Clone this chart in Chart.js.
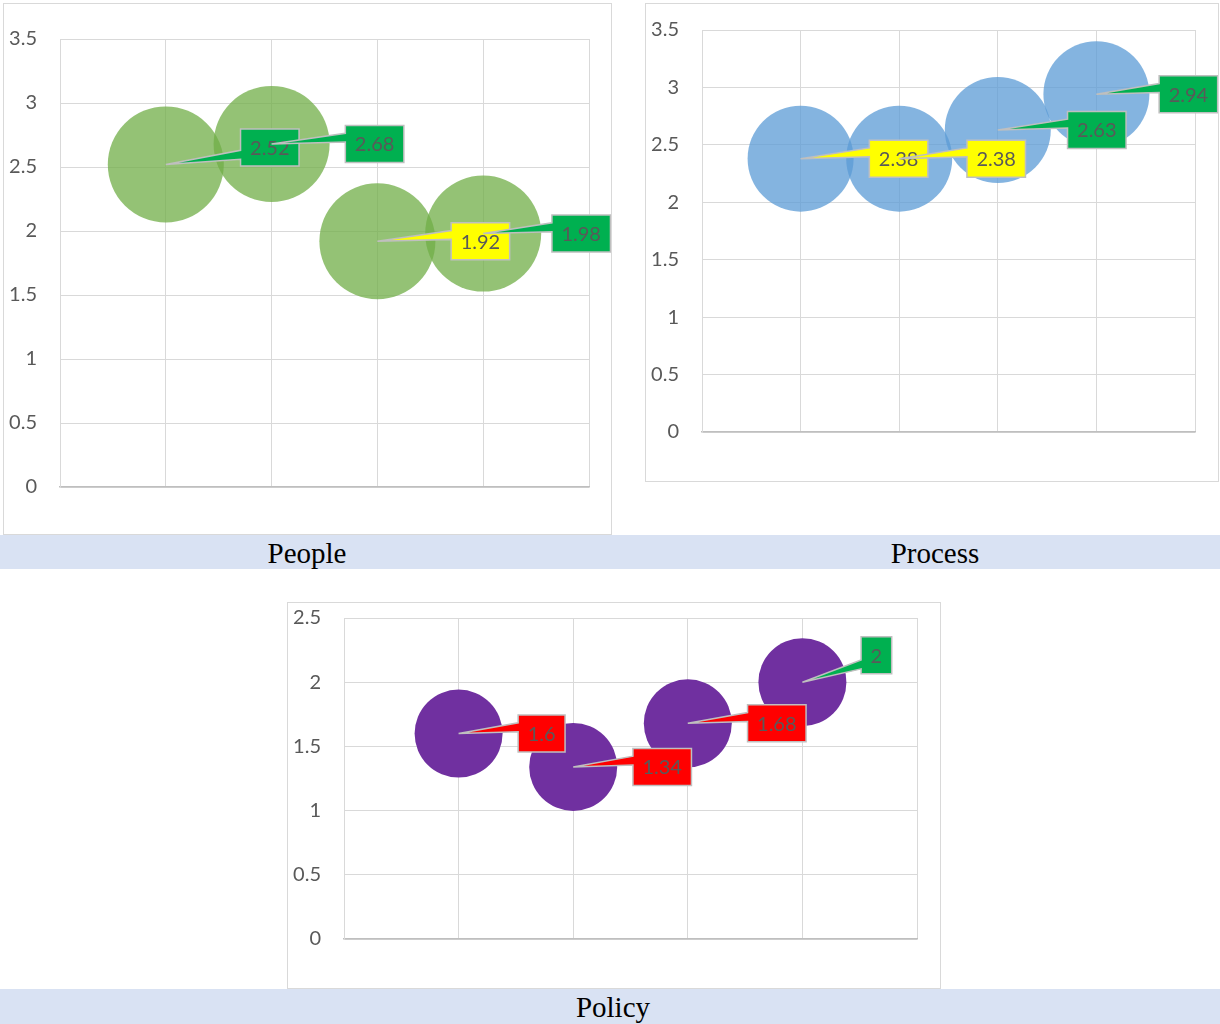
<!DOCTYPE html>
<html>
<head>
<meta charset="utf-8">
<script src="https://cdn.jsdelivr.net/npm/chart.js@4.4.0/dist/chart.umd.min.js"></script>
<style>
  body { margin: 0; background: #fff; }
  #page { position: relative; width: 1220px; height: 1024px; overflow: hidden; }
  .box { position: absolute; box-sizing: border-box; border: 1px solid #d9d9d9; background: #fff; }
  .box canvas { display: block; }
  .band { position: absolute; left: 0; width: 1220px; height: 34px; background: #d9e2f3; }
  .cap { position: absolute; top: 0; line-height: 36px; font-family: "Liberation Serif", "Times New Roman", serif; font-size: 29px; color: #000; transform: translateX(-50%); white-space: nowrap; }
</style>
</head>
<body>
<div id="page">
  <div class="box" style="left:3px; top:3px; width:609px; height:532px;"><canvas id="peopleChart"></canvas></div>
  <div class="box" style="left:645px; top:3px; width:574px; height:479px;"><canvas id="processChart"></canvas></div>
  <div class="band" style="top:535px;">
    <span class="cap" style="left:307px;">People</span>
    <span class="cap" style="left:935px;">Process</span>
  </div>
  <div class="box" style="left:287px; top:602px; width:654px; height:387px;"><canvas id="policyChart"></canvas></div>
  <div class="band" style="top:989px; height:35px;">
    <span class="cap" style="left:613px;">Policy</span>
  </div>
</div>
<script>
// data
var xPositions = [1, 2, 3, 4];
var peopleValues = [2.52, 2.68, 1.92, 1.98];
var processValues = [2.38, 2.38, 2.63, 2.94];
var policyValues = [1.6, 1.34, 1.68, 2];
var peopleLabelColors = ["green", "green", "yellow", "green"];
var processLabelColors = ["yellow", "yellow", "green", "green"];
var policyLabelColors = ["red", "red", "red", "green"];

var fills = { green: "#00b050", yellow: "#ffff00", red: "#ff0000" };
var textFont = "Lato, 'Open Sans', sans-serif";

// callout labels with a wedge pointing at each bubble
var calloutPlugin = {
	id: "callouts",
	afterDatasetsDraw: function(chart) {
		var opts = chart.options.plugins.callouts;
		var meta = chart.getDatasetMeta(0);
		var values = chart.data.datasets[0].data;
		var ctx = chart.ctx;
		ctx.save();
		ctx.font = "20px " + textFont;
		meta.data.forEach(function(el, i) {
			var txt = String(values[i].y);
			var off = opts.offsets[i];
			var tw = ctx.measureText(txt).width;
			var w = tw + 19, h = 37;
			var cx = el.x + off[0], cy = el.y + off[1];
			var l = cx - w / 2, t = cy - h / 2, r = l + w, b = t + h;
			var frac = 0.33 + 0.8 * (el.y - cy) / h;
			frac = Math.max(0.15, Math.min(0.75, frac));
			var bc = t + frac * h;
			ctx.beginPath();
			ctx.moveTo(l, t);
			ctx.lineTo(r, t);
			ctx.lineTo(r, b);
			ctx.lineTo(l, b);
			ctx.lineTo(l, bc + 0.12 * h);
			ctx.lineTo(el.x, el.y);
			ctx.lineTo(l, bc - 0.12 * h);
			ctx.closePath();
			ctx.fillStyle = fills[opts.colors[i]];
			ctx.fill();
			ctx.lineWidth = 1.5;
			ctx.strokeStyle = "#bfbfbf";
			ctx.lineJoin = "miter";
			ctx.stroke();
			ctx.fillStyle = "#595959";
			ctx.textAlign = "center";
			ctx.textBaseline = "middle";
			ctx.fillText(txt, cx, cy + 1);
		});
		ctx.restore();
	}
};

function makeChart(id, values, colors, offsets, opt) {
	var points = [];
	for (var i = 0; i < values.length; i++) {
		points.push({ x: xPositions[i], y: values[i] });
	}
	return new Chart(document.getElementById(id), {
		type: "bubble",
		data: {
			datasets: [{
				data: points,
				radius: opt.radius,
				backgroundColor: opt.color,
				borderWidth: 0,
				hoverRadius: 0
			}]
		},
		options: {
			responsive: true,
			maintainAspectRatio: false,
			animation: false,
			events: [],
			layout: { autoPadding: false, padding: opt.padding },
			plugins: {
				legend: { display: false },
				tooltip: { enabled: false },
				callouts: { colors: colors, offsets: offsets }
			},
			scales: {
				x: {
					type: "linear",
					min: 0, max: 5,
					ticks: { display: false, stepSize: 1 },
					grid: { color: "#d9d9d9", drawTicks: false },
					border: { color: "#bfbfbf", width: 1.5 },
					afterFit: function(scale) { scale.height = 0; }
				},
				y: {
					min: 0, max: opt.yMax,
					ticks: {
						stepSize: 0.5, color: "#595959", padding: 23,
						font: { family: textFont, size: 20 },
						callback: function(v) { return String(v); }
					},
					grid: { color: "#d9d9d9", drawTicks: false },
					border: { color: "#d9d9d9" },
					afterFit: function(scale) {
						scale.width = 56;
						scale.paddingTop = 0;
						scale.paddingBottom = 0;
					}
				}
			}
		},
		plugins: [calloutPlugin]
	});
}

makeChart("peopleChart", peopleValues, peopleLabelColors,
	[[104, -17], [103, 0], [103, 0], [98, 0]],
	{ radius: 58, color: "rgba(112,173,71,0.75)", yMax: 3.5, padding: { left: 0, top: 35, right: 22, bottom: 47 } });

makeChart("processChart", processValues, processLabelColors,
	[[98, 0], [97, 0], [99, 0], [92, 0]],
	{ radius: 53, color: "rgba(91,155,213,0.75)", yMax: 3.5, padding: { left: 0, top: 26, right: 23, bottom: 49 } });

makeChart("policyChart", policyValues, policyLabelColors,
	[[83, 0], [89, 0], [89, 0], [74, -27]],
	{ radius: 44, color: "#7030a0", yMax: 2.5, padding: { left: 0, top: 15, right: 23, bottom: 49 } });
</script>
</body>
</html>
